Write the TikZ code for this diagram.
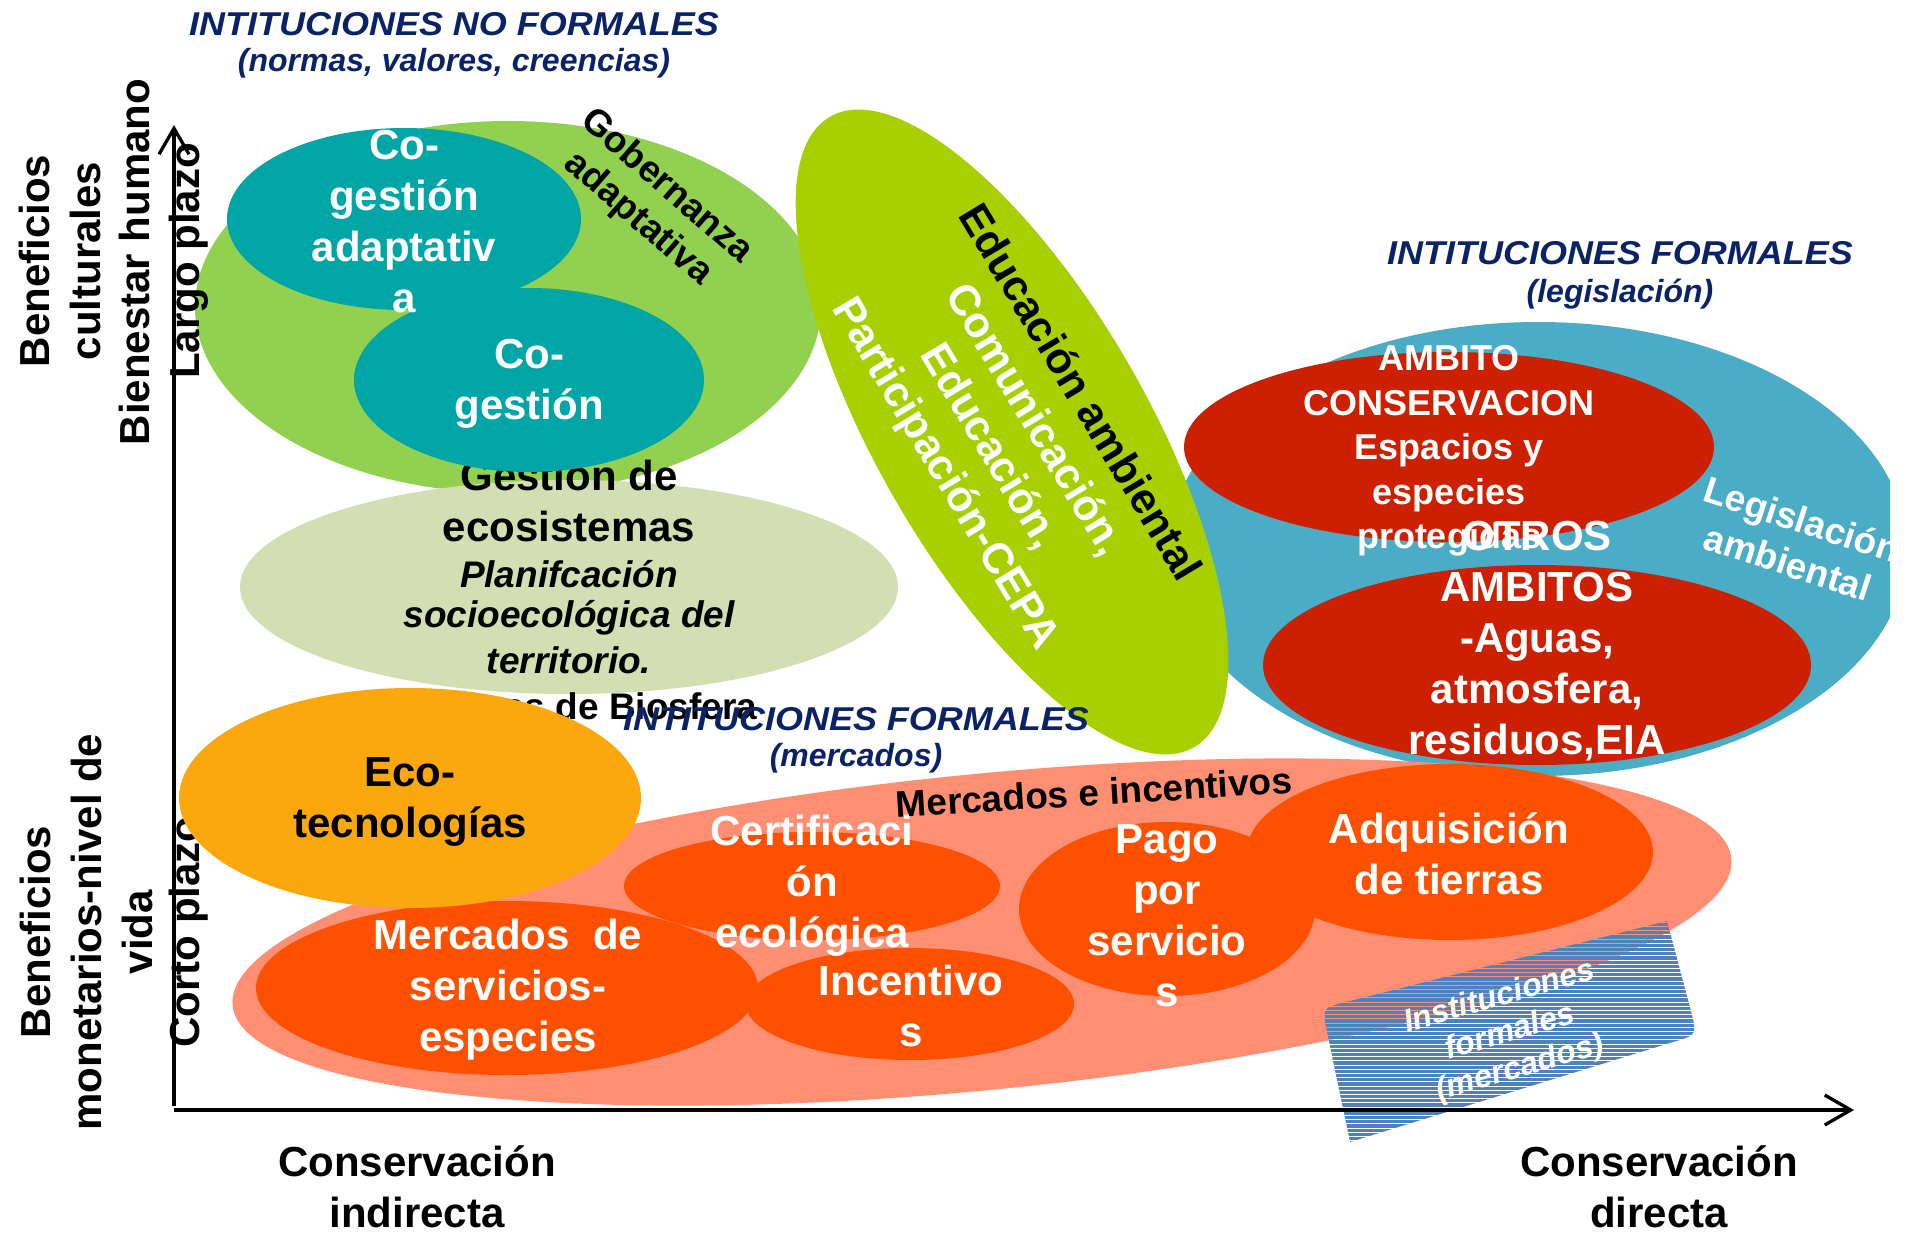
\documentclass[tikz,border=0pt]{standalone}
\usepackage{fontspec}
\setmainfont{Liberation Sans}
\usetikzlibrary{shapes.geometric,arrows.meta}
\definecolor{gobgreen}{HTML}{92D050}
\definecolor{palegreen}{HTML}{D3DFB3}
\definecolor{tealc}{HTML}{00A6A6}
\definecolor{educgreen}{HTML}{A8CF00}
\definecolor{legblue}{HTML}{4BACC6}
\definecolor{redc}{HTML}{CC2000}
\definecolor{salmon}{HTML}{FF8F73}
\definecolor{orred}{HTML}{FF5000}
\definecolor{ecoorange}{HTML}{FBA70E}
\definecolor{stripeblue}{HTML}{4F81BD}
\definecolor{navy}{HTML}{0A2366}
\newcommand\setfs[2]{\fontsize{#1}{#2}\selectfont}
\begin{document}
\begin{tikzpicture}[x=1pt,y=-1pt,
  blob/.style={ellipse, inner sep=0pt, draw=none},
  tx/.style={inner sep=0pt, align=center},
  wb/.style={tx, text=white, font={\setfs{42}{51}\bfseries}},
  bb/.style={tx, text=black, font={\setfs{42}{51}\bfseries}},
  ttl/.style={tx, text=navy, font={\setfs{33}{38}\bfseries\itshape}, xscale=1.09},
  sub/.style={tx, text=navy, font={\setfs{32}{38}\bfseries\itshape}},
  axis/.style={line width=3.3pt, -{Straight Barb[length=26pt,width=30pt,line width=3.3pt]}},
  stripe/.style={draw=stripeblue, line width=3.1pt}
]
\useasboundingbox (0,0) rectangle (1910,1234);
\fill[white] (0,0) rectangle (1910,1234);

% --- upper left group
\node[blob, fill=gobgreen, minimum width=626pt, minimum height=372pt] (gob) at (508,307) {};
\node[blob, fill=palegreen, minimum width=658pt, minimum height=214pt] (gest) at (569,587) {};
\node[bb] (g1) at (569,475) {Gestión de};
\node[bb] (g2) at (569,526) {ecosistemas};
\node[tx, font={\setfs{37}{43}\bfseries\itshape}] (g3) at (569,574) {Planifcación};
\node[tx, font={\setfs{37}{43}\bfseries\itshape}] (g4) at (569,618) {socioecológica del};
\node[tx, font={\setfs{37}{43}\bfseries\itshape}] (g5) at (569,660) {territorio.};
\node[tx, font={\setfs{37}{43}\bfseries}] (g6) at (569,706) {Reservas de Biosfera};

\node[blob, fill=tealc, minimum width=354pt, minimum height=182pt] (cga) at (404,219) {};
\node[blob, fill=tealc, minimum width=350pt, minimum height=184pt] (cg) at (529,380) {};
\node[wb] (cgat) at (404,222) {Co-\\gestión\\adaptativ\\a};
\node[wb] (cgt) at (529,384) {Co-\\gestión};
\node[tx, font={\setfs{37}{43}\bfseries}, rotate=-41] (gobt) at (652,203) {Gobernanza\\adaptativa};

% --- right group (formal institutions, legislation)
\begin{scope}
\clip (0,0) rectangle (1890,1234);
\node[blob, fill=legblue, minimum width=738pt, minimum height=454pt] (leg) at (1538,549) {};
\node[tx, text=white, font={\setfs{37}{45}\bfseries}, rotate=-18] (legt) at (1795,541) {Legislación\\ambiental};
\end{scope}
\node[blob, fill=redc, minimum width=530pt, minimum height=190pt] (amb1) at (1449,447) {};
\node[blob, fill=redc, minimum width=548pt, minimum height=200pt] (amb2) at (1537,665) {};
\node[tx, text=white, font={\setfs{36}{44.5}\bfseries}] (amb1t) at (1449,451) {AMBITO\\CONSERVACION\\Espacios y\\especies\\protegidas};
\node[wb] (amb2t) at (1537,641) {OTROS\\AMBITOS\\-Aguas,\\atmosfera,\\residuos,EIA};

% --- environmental education
\node[blob, fill=educgreen, minimum width=728pt, minimum height=270pt, rotate=-60] (educ) at (1012,432) {};
\node[tx, text=white, font={\setfs{43}{52}\bfseries}, rotate=-59] (educt) at (1011,434) {{\color{black}Educación ambiental}\\Comunicación,\\Educación,\\Participación-CEPA};

% --- axis labels
\node[bb, rotate=90] (bcult) at (60,261) {Beneficios\\culturales};
\node[bb, rotate=90] (bien) at (134,262) {Bienestar humano};
\node[bb, rotate=90] (largo) at (189,261) {Largo plazo};
\node[bb, rotate=90] (bmon) at (86,932) {Beneficios\\monetarios-nivel de\\vida};
\node[bb, rotate=90] (corto) at (189,932) {Corto plazo};
\node[bb] (cind) at (417,1187) {Conservación\\indirecta};
\node[bb] (cdir) at (1659,1187) {Conservación\\directa};

% --- markets
\node[blob, fill=salmon, minimum width=1506pt, minimum height=316pt, rotate=5.6] (merc) at (982,932) {};
\begin{scope}
\clip (1350,1142) -- (1327,1032) .. controls (1322,1008) .. (1346,1002) -- (1667,921) -- (1691,1011) .. controls (1697,1035) .. (1673,1042) -- cycle;
\foreach \yy in {916,920.2,...,1148} \draw[stripe] (1300,\yy) -- (1720,\yy);
\end{scope}
\node[tx, text=white, font={\setfs{32}{37}\bfseries\itshape}, rotate=16] (inst) at (1510,1033) {Instituciones\\formales\\(mercados)};

\node[blob, fill=orred, minimum width=376pt, minimum height=108pt] (cert) at (812,886) {};
\node[blob, fill=orred, minimum width=328pt, minimum height=112pt] (inc) at (910,1004) {};
\node[blob, fill=orred, minimum width=502pt, minimum height=174pt] (mserv) at (507,988) {};
\node[blob, fill=orred, minimum width=406pt, minimum height=176pt] (adq) at (1450,852) {};
\node[blob, fill=orred, minimum width=296pt, minimum height=174pt] (pago) at (1167,909) {};
\node[blob, fill=ecoorange, minimum width=462pt, minimum height=220pt] (eco) at (410,798) {};

\node[wb] (certt) at (812,886) {Certificaci\\ón\\ecológica};
\node[wb] (inct) at (911,1006) {Incentivo\\s};
\node[wb] (mservt) at (508,990) {Mercados\ \ de\\servicios-\\especies};
\node[wb] (adqt) at (1449,854) {Adquisición\\de tierras};
\node[wb] (pagot) at (1167,916) {Pago\\por\\servicio\\s};
\node[bb] (ecot) at (410,802) {Eco-\\tecnologías};
\node[tx, font={\setfs{37}{43}\bfseries}, rotate=3.5] (mit) at (1094,792) {Mercados e incentivos};

% --- axes
\coordinate (o1) at (174,1106);
\coordinate (ytip) at (174,125);
\coordinate (o2) at (174,1110);
\coordinate (xtip) at (1854,1110);
\draw[axis] (o1) -- (ytip);
\draw[axis] (o2) -- (xtip);

% --- titles
\node[ttl] (t1) at (454,24) {INTITUCIONES NO FORMALES};
\node[sub] (t1s) at (454,63) {(normas, valores, creencias)};
\node[ttl] (t2) at (1620,253) {INTITUCIONES FORMALES};
\node[sub] (t2s) at (1620,294) {(legislación)};
\node[ttl] (t3) at (856,719) {INTITUCIONES FORMALES};
\node[sub] (t3s) at (856,758) {(mercados)};
\end{tikzpicture}
\end{document}
